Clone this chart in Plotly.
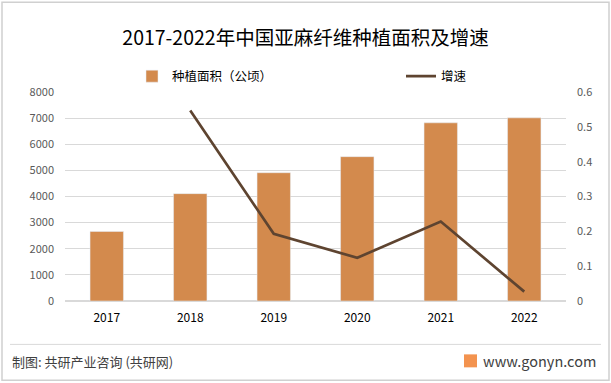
import plotly.graph_objects as go

years = ["2017", "2018", "2019", "2020", "2021", "2022"]
area = [2660, 4110, 4910, 5525, 6820, 7010]
growth = [None, 0.547, 0.193, 0.124, 0.228, 0.027]

W, H = 611, 383
L, R, T, B = 65, 566, 92, 301.5

def px(x):
    return (x - L) / (R - L)

def py(y):
    return (B - y) / (B - T)

fig = go.Figure()
fig.add_trace(go.Bar(x=years, y=area, name="种植面积（公顷）", marker_color="#D38A4D",
                     width=0.4, yaxis="y", legend="legend"))
fig.add_trace(go.Scatter(x=years, y=growth, name="增速", mode="lines",
                         line=dict(color="#5E4430", width=2.7), yaxis="y2", legend="legend2"))

font_family = "Noto Sans CJK SC, Microsoft YaHei, sans-serif"

fig.update_layout(
    width=W, height=H,
    margin=dict(l=L, r=W - R, t=T, b=H - B, autoexpand=False),
    paper_bgcolor="white", plot_bgcolor="white",
    font=dict(family=font_family, color="#595959"),
    title=dict(text="2017-2022年中国亚麻纤维种植面积及增速", x=0.5, xanchor="center",
               y=1 - 38 / H, yanchor="middle",
               font=dict(size=19.5, color="#000000", family=font_family)),
    showlegend=True,
    legend=dict(orientation="h", x=px(132), xanchor="left", y=py(76.5), yanchor="middle",
                font=dict(size=12.5, color="#000000"), bgcolor="rgba(0,0,0,0)"),
    legend2=dict(orientation="h", x=px(401), xanchor="left", y=py(76.5), yanchor="middle",
                 font=dict(size=12.5, color="#000000"), bgcolor="rgba(0,0,0,0)"),
    bargap=0.6,
    xaxis=dict(showgrid=False, showline=False, ticks="", tickfont=dict(size=12, color="#000000"),
               ticklabelstandoff=8),
    yaxis=dict(range=[0, 8000], dtick=1000, showgrid=True, gridcolor="#D9D9D9", gridwidth=1,
               zeroline=True, zerolinecolor="#D9D9D9", tickfont=dict(size=11, color="#595959"),
               ticklabelstandoff=10),
    yaxis2=dict(range=[0, 0.6], dtick=0.1, overlaying="y", side="right", showgrid=False,
                zeroline=False, tickfont=dict(size=11, color="#595959"), ticklabelstandoff=10),
)

shapes = [
    dict(type="rect", xref="paper", yref="paper", x0=px(2), x1=px(609), y0=py(2), y1=py(381),
         line=dict(color="#D0D0D0", width=1.5), fillcolor="rgba(0,0,0,0)", layer="below"),
    dict(type="line", xref="paper", yref="paper", x0=px(10), x1=px(601), y0=py(345), y1=py(345),
         line=dict(color="#D9D9D9", width=1)),
    dict(type="rect", xref="paper", yref="paper", x0=px(464), x1=px(477), y0=py(355), y1=py(368),
         line=dict(width=0), fillcolor="#F3934F"),
]
fig.update_layout(shapes=shapes)

fig.add_annotation(text="制图: 共研产业咨询 (共研网)", xref="paper", yref="paper", x=px(10), y=py(362),
                   xanchor="left", yanchor="middle", showarrow=False,
                   font=dict(size=13, color="#404040", family=font_family))
fig.add_annotation(text="www.gonyn.com", xref="paper", yref="paper", x=px(598), y=py(361),
                   xanchor="right", yanchor="middle", showarrow=False,
                   font=dict(size=14.5, color="#404040", family=font_family))

fig.write_html("out.html", config={"displayModeBar": False},
               post_script="document.body.style.margin='0';document.body.style.overflow='hidden';")
